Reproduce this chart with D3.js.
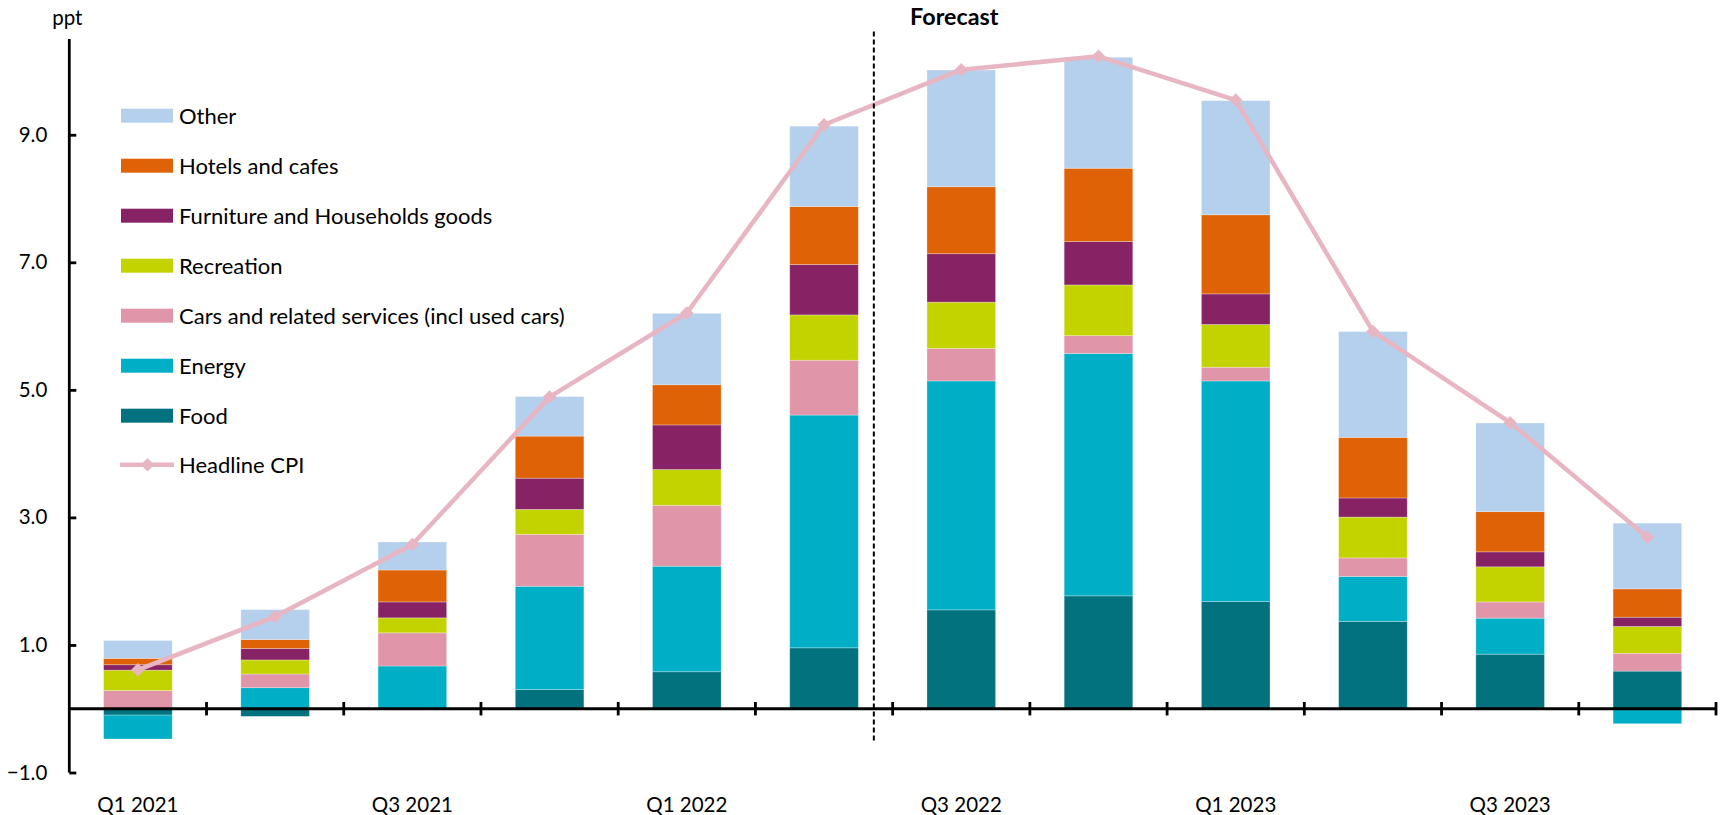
<!DOCTYPE html>
<html>
<head>
<meta charset="utf-8">
<script src="https://cdn.jsdelivr.net/npm/d3@7"></script>
<style>
  html, body { margin: 0; padding: 0; background: #fff; }
  svg { display: block; font-family: Lato, "Noto Sans", sans-serif; }
</style>
</head>
<body>
<svg id="chart" width="1730" height="815"></svg>
<script>
// ---------------- DATA ----------------
const categories = ["Q1 2021","Q2 2021","Q3 2021","Q4 2021","Q1 2022","Q2 2022",
                    "Q3 2022","Q4 2022","Q1 2023","Q2 2023","Q3 2023","Q4 2023"];
const xTickLabels = ["Q1 2021","","Q3 2021","","Q1 2022","","Q3 2022","","Q1 2023","","Q3 2023",""];
const yTickValues = [-1, 1, 3, 5, 7, 9];

const food       = [-0.10, -0.12, -0.02, 0.30, 0.58, 0.955, 1.55, 1.77, 1.68, 1.37, 0.855, 0.59];
const energy     = [-0.375, 0.33, 0.67, 1.62, 1.655, 3.65, 3.59, 3.80, 3.46, 0.705, 0.565, -0.235];
const cars       = [0.285, 0.215, 0.52, 0.815, 0.955, 0.86, 0.51, 0.28, 0.215, 0.29, 0.255, 0.28];
const recreation = [0.32, 0.22, 0.235, 0.39, 0.56, 0.71, 0.725, 0.795, 0.67, 0.64, 0.55, 0.42];
const furniture  = [0.085, 0.18, 0.25, 0.49, 0.70, 0.79, 0.76, 0.68, 0.48, 0.30, 0.235, 0.145];
const hotels     = [0.10, 0.14, 0.50, 0.66, 0.63, 0.91, 1.05, 1.15, 1.24, 0.95, 0.63, 0.445];
const other      = [0.28, 0.47, 0.44, 0.62, 1.12, 1.26, 1.83, 1.74, 1.79, 1.66, 1.39, 1.03];
const headlineCPI = [0.61, 1.445, 2.574, 4.89, 6.205, 9.157, 10.02, 10.23, 9.544, 5.917, 4.486, 2.69];

const seriesNames  = ["Food","Energy","Cars and related services (incl used cars)","Recreation",
                      "Furniture and Households goods","Hotels and cafes","Other"];
const seriesValues = [food, energy, cars, recreation, furniture, hotels, other];
const seriesColors = ["#01727E","#00AFC6","#E095A8","#C3D300","#872365","#DF6206","#B5D0ED"];
const lineName = "Headline CPI";
const lineColor = "#E8B5C3";
const forecastLabel = "Forecast";
const unitLabel = "ppt";
const forecastStart = "Q3 2022";
const dividerExtent = [-0.5, 10.62];

// ---------------- LAYOUT ----------------
const svg = d3.select("#chart");
const plotLeft = 69.3, plotRight = 1716;
const x = d3.scaleBand().domain(categories).range([plotLeft, plotRight])
            .paddingInner(0.5).paddingOuter(0.25);
const y = d3.scaleLinear().domain([-1, 10.5]).range([772.5, 39.1]);
const step = x.step();
const fontSize = 20.5;
const legendFontSize = 22;

// stacked data
const table = categories.map((c, i) => {
  const row = { cat: c };
  seriesNames.forEach((n, k) => row[n] = seriesValues[k][i]);
  return row;
});
const stack = d3.stack().keys(seriesNames).offset(d3.stackOffsetDiverging);
const stacked = stack(table);

// bars
const gBars = svg.append("g");
stacked.forEach((layer, k) => {
  gBars.selectAll(null).data(layer).join("rect")
    .attr("x", d => x(d.data.cat))
    .attr("width", x.bandwidth())
    .attr("y", d => y(Math.max(d[0], d[1])))
    .attr("height", d => Math.abs(y(d[0]) - y(d[1])))
    .attr("fill", seriesColors[k])
    .attr("stroke", "#ffffff")
    .attr("stroke-opacity", 0.35)
    .attr("stroke-width", 0.8);
});

// headline CPI line
const linePts = categories.map((c, i) => [x(c) + x.bandwidth() / 2, y(headlineCPI[i])]);
svg.append("path")
  .attr("d", d3.line()(linePts))
  .attr("fill", "none")
  .attr("stroke", lineColor)
  .attr("stroke-width", 4.5)
  .attr("stroke-linejoin", "round");
const diamond = d3.symbol(d3.symbolSquare, 90);
svg.selectAll(null).data(linePts).join("path")
  .attr("d", diamond)
  .attr("transform", d => `translate(${d[0]},${d[1]}) rotate(45)`)
  .attr("fill", lineColor);

// forecast divider
const prevIdx = categories.indexOf(forecastStart) - 1;
const divX = x(categories[prevIdx]) + x.bandwidth() + (step - x.bandwidth()) * 0.226;
svg.append("line")
  .attr("x1", divX).attr("x2", divX)
  .attr("y1", y(dividerExtent[0])).attr("y2", y(dividerExtent[1]))
  .attr("stroke", "#000").attr("stroke-width", 2).attr("stroke-dasharray", "5,3");
svg.append("text")
  .attr("x", x(forecastStart) + x.bandwidth() / 2 - 7)
  .attr("y", 25)
  .attr("text-anchor", "middle")
  .attr("font-weight", "bold")
  .attr("font-size", 23.3)
  .attr("fill", "#000")
  .text(forecastLabel);

// y axis
const yAxis = d3.axisRight(y).tickValues(yTickValues).tickSize(7).tickFormat(d3.format(".1f"));
const gy = svg.append("g").attr("transform", `translate(${plotLeft},0)`).call(yAxis);
gy.select(".domain").attr("stroke", "#000").attr("stroke-width", 2.8)
  .attr("d", `M0,${y(10.5)}V${y(-1)}`);
gy.selectAll(".tick line").attr("stroke", "#000").attr("stroke-width", 2.8);
gy.selectAll(".tick text")
  .attr("x", -22).attr("dx", 0).attr("text-anchor", "end")
  .attr("font-family", "Lato").attr("font-size", fontSize).attr("fill", "#000");

svg.append("text")
  .attr("x", plotLeft - 2).attr("y", 25)
  .attr("text-anchor", "middle")
  .attr("font-size", fontSize).attr("fill", "#000")
  .text(unitLabel);

// x axis (at zero)
const y0 = y(0);
svg.append("line")
  .attr("x1", plotLeft).attr("x2", plotRight)
  .attr("y1", y0).attr("y2", y0)
  .attr("stroke", "#000").attr("stroke-width", 2.8);
const boundaries = categories.map((c, i) => plotLeft + step * (i + 1));
svg.selectAll(null).data(boundaries).join("line")
  .attr("x1", d => d).attr("x2", d => d)
  .attr("y1", y0 - 6.7).attr("y2", y0 + 6.7)
  .attr("stroke", "#000").attr("stroke-width", 2.8);
svg.selectAll(null).data(categories).join("text")
  .attr("x", c => x(c) + x.bandwidth() / 2)
  .attr("y", 812)
  .attr("text-anchor", "middle")
  .attr("font-size", fontSize).attr("fill", "#000")
  .text((c, i) => xTickLabels[i]);

// legend
const legendX = 121, legendTextX = 179, legendTop = 115.7, legendGap = 50;
const legendOrder = seriesNames.map((n, k) => k).reverse();
const gLeg = svg.append("g");
legendOrder.forEach((k, j) => {
  const cy = legendTop + j * legendGap;
  gLeg.append("rect")
    .attr("x", legendX).attr("y", cy - 7).attr("width", 52).attr("height", 14)
    .attr("fill", seriesColors[k]);
  gLeg.append("text")
    .attr("x", legendTextX).attr("y", cy + 7.8)
    .attr("font-size", legendFontSize).attr("fill", "#000")
    .text(seriesNames[k]);
});
{
  const cy = legendTop + legendOrder.length * legendGap - 1;
  gLeg.append("line")
    .attr("x1", 120).attr("x2", 174).attr("y1", cy).attr("y2", cy)
    .attr("stroke", lineColor).attr("stroke-width", 4.5);
  gLeg.append("path")
    .attr("d", diamond)
    .attr("transform", `translate(147.5,${cy}) rotate(45)`)
    .attr("fill", lineColor);
  gLeg.append("text")
    .attr("x", legendTextX).attr("y", cy + 7.8)
    .attr("font-size", legendFontSize).attr("fill", "#000")
    .text(lineName);
}
</script>
</body>
</html>
